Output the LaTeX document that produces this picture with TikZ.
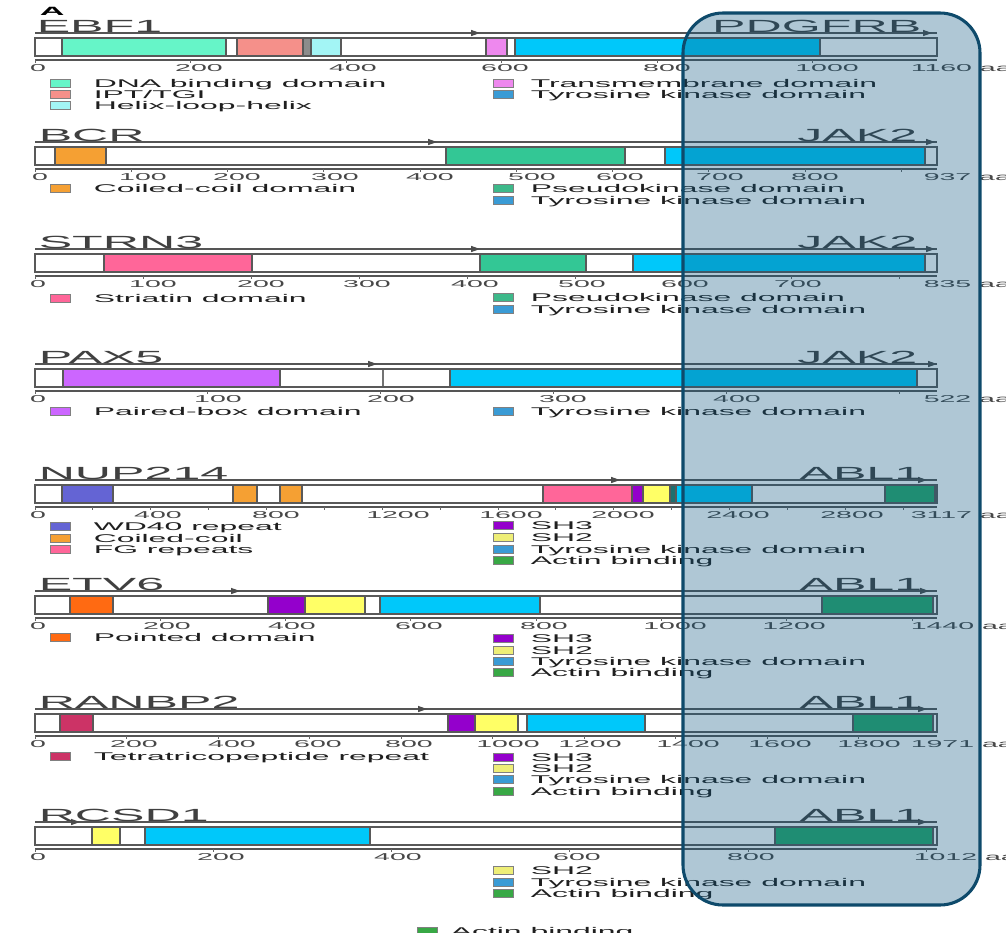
\documentclass[tikz,border=0pt]{standalone}
\usepackage{fontspec}
\setmainfont{Liberation Sans}
\definecolor{cTK}{HTML}{00C8FA}
\definecolor{cTKleg}{HTML}{3A9BD5}
\definecolor{cAct}{HTML}{27A86D}
\definecolor{cActleg}{HTML}{38A845}
\definecolor{cPK}{HTML}{33C795}
\definecolor{cPKleg}{HTML}{3DB98A}
\definecolor{cSHthree}{HTML}{9400CC}
\definecolor{cSHtwo}{HTML}{FFFF66}
\definecolor{cSHtwoleg}{HTML}{EEEE77}
\definecolor{cWD}{HTML}{6464D4}
\definecolor{cFG}{HTML}{FF6699}
\definecolor{cCC}{HTML}{F5A033}
\definecolor{cPNT}{HTML}{FF6A12}
\definecolor{cTPR}{HTML}{CC3366}
\definecolor{cSTR}{HTML}{FF6699}
\definecolor{cPAX}{HTML}{CC66FF}
\definecolor{cDNA}{HTML}{66F5C8}
\definecolor{cIPT}{HTML}{F5908A}
\definecolor{cHLH}{HTML}{A3F5F5}
\definecolor{cTM}{HTML}{EE88EE}
\definecolor{cDark}{HTML}{1F6F6F}
\definecolor{cOv}{HTML}{0F5882}
\definecolor{cBorder}{HTML}{0E4A6B}
\definecolor{cLine}{HTML}{555555}
\newcommand{\rowbase}[1]{%
  \draw[rline] (35,#1) -- (937,#1);
  \draw[rline] (35,{#1+27}) -- (937,{#1+27});
  \fill[white] (35,{#1+5}) rectangle (937,{#1+23});}
\newcommand{\dom}[4]{\filldraw[dom, fill=#4] (#1,{#3+5}) rectangle (#2,{#3+23});}
\newcommand{\rowedge}[1]{\draw[barline] (35,{#1+5}) rectangle (937,{#1+23});}
\newcommand{\amark}[2]{\fill[black!70] (#1,#2) -- ({#1-9},{#2-3.2}) -- ({#1-9},{#2+3.2}) -- cycle;}
\newcommand{\rticks}[3]{%
  \foreach \v in {#3} {\draw[tickl] ({35+\v/#2*902},{#1+27}) -- ({35+\v/#2*902},{#1+30});}}
\newcommand{\tlabels}[3]{%
  \foreach \x/\l in {#3} {\node[ticklab] (#1-t\l) at (\x,{#2+38.5}) {\l};}}
\newcommand{\leg}[6]{%
  \filldraw[legsq, fill=#5] (#2,{#4-4}) rectangle ({#2+20},{#4+4});
  \node[legtext] (#1) at (#3,{#4+4}) {#6};}
\begin{document}
\begin{tikzpicture}[x=0.75pt,y=-0.75pt,
  rline/.style={draw=cLine, line width=1pt},
  dom/.style={draw=black!65, line width=0.9pt},
  barline/.style={draw=black!65, line width=1.1pt},
  tickl/.style={draw=black!60, line width=0.6pt},
  legsq/.style={draw=black!50, line width=0.5pt},
  gtitle/.style={font=\fontsize{13.2}{14}\selectfont, text=black!75, xscale=2.85, inner sep=0, anchor=base west},
  ptitle/.style={gtitle, anchor=base east},
  ticklab/.style={font=\fontsize{7.5}{8}\selectfont, text=black!72, xscale=2.85, inner sep=0, anchor=base},
  lenlab/.style={ticklab, anchor=base west},
  legtext/.style={font=\fontsize{8.4}{9}\selectfont, text=black!88, xscale=2.85, inner sep=0, anchor=base west}
]
\useasboundingbox (0,0) rectangle (1006,932);
\fill[white] (0,0) rectangle (1006,932);
\node[font=\bfseries\fontsize{9}{10}\selectfont, xscale=2.85, inner sep=0, anchor=base west] (panelA) at (39,15) {A};

% ---------- EBF1 - PDGFRB ----------
\rowbase{33}
\dom{62}{226}{33}{cDNA}
\dom{237}{303}{33}{cIPT}
\dom{303}{311}{33}{black!45}
\dom{311}{341}{33}{cHLH}
\dom{486}{507}{33}{cTM}
\dom{515}{820}{33}{cTK}
\rowedge{33}
\amark{480}{33}\amark{932}{33}
\node[gtitle] (ebf1) at (36,32) {EBF1};
\node[ptitle] (pdgfrb) at (922,32) {PDGFRB};
\rticks{33}{1160}{0,200,400,600,800,1000}
\tlabels{ebf1}{33}{38/0,199/200,353/400,505/600,667/800,827/1000}
\node[lenlab] (ebf1-len) at (910,71.5) {1160 aa};
\leg{l1a}{50}{93}{83}{cDNA}{DNA binding domain}
\leg{l1b}{50}{93}{94}{cIPT}{IPT/TGI}
\leg{l1c}{50}{93}{105}{cHLH}{Helix-loop-helix}
\leg{l1d}{493}{530}{83}{cTM}{Transmembrane domain}
\leg{l1e}{493}{530}{94}{cTKleg}{Tyrosine kinase domain}

% ---------- BCR - JAK2 ----------
\rowbase{142}
\dom{55}{106}{142}{cCC}
\dom{446}{625}{142}{cPK}
\dom{665}{925}{142}{cTK}
\rowedge{142}
\amark{437}{142}\amark{935}{142}
\node[gtitle] (bcr) at (38,141) {BCR};
\node[ptitle] (jak2a) at (918,141) {JAK2};
\rticks{142}{937}{0,100,200,300,400,500,600,700,800,900}
\tlabels{bcr}{142}{40/0,143/100,237/200,335/300,430/400,532/500,620/600,720/700,815/800}
\node[lenlab] (bcr-len) at (923,180.5) {937 aa};
\leg{l2a}{50}{93}{188}{cCC}{Coiled-coil domain}
\leg{l2b}{493}{530}{188}{cPKleg}{Pseudokinase domain}
\leg{l2c}{493}{530}{200}{cTKleg}{Tyrosine kinase domain}

% ---------- STRN3 - JAK2 ----------
\rowbase{249}
\dom{104}{252}{249}{cSTR}
\dom{480}{586}{249}{cPK}
\dom{633}{925}{249}{cTK}
\rowedge{249}
\amark{480}{249}\amark{935}{249}
\node[gtitle] (strn3) at (38,248) {STRN3};
\node[ptitle] (jak2b) at (918,248) {JAK2};
\rticks{249}{835}{0,100,200,300,400,500,600,700,800}
\tlabels{strn3}{249}{38/0,153/100,261/200,367/300,475/400,582/500,685/600,798/700}
\node[lenlab] (strn3-len) at (923,287.5) {835 aa};
\leg{l3a}{50}{93}{298}{cSTR}{Striatin domain}
\leg{l3b}{493}{530}{297}{cPKleg}{Pseudokinase domain}
\leg{l3c}{493}{530}{309}{cTKleg}{Tyrosine kinase domain}

% ---------- PAX5 - JAK2 ----------
\rowbase{364}
\dom{63}{280}{364}{cPAX}
\dom{450}{917}{364}{cTK}
\draw[black!55, line width=1.4pt] (383,369) -- (383,387);
\rowedge{364}
\amark{377}{364}\amark{937}{364}
\node[gtitle] (pax5) at (38,363) {PAX5};
\node[ptitle] (jak2c) at (918,363) {JAK2};
\rticks{364}{522}{0,100,200,300,400,500}
\tlabels{pax5}{364}{38/0,218/100,391/200,563/300,737/400}
\node[lenlab] (pax5-len) at (923,402.5) {522 aa};
\leg{l4a}{50}{93}{411}{cPAX}{Paired-box domain}
\leg{l4b}{493}{530}{411}{cTKleg}{Tyrosine kinase domain}

% ---------- NUP214 - ABL1 ----------
\rowbase{480}
\dom{62}{113}{480}{cWD}
\dom{233}{257}{480}{cCC}
\dom{280}{302}{480}{cCC}
\dom{543}{632}{480}{cFG}
\dom{632}{643}{480}{cSHthree}
\dom{643}{670}{480}{cSHtwo}
\dom{670}{676}{480}{cDark}
\dom{676}{752}{480}{cTK}
\dom{885}{935}{480}{cAct}
\rowedge{480}
\amark{620}{480}\amark{927}{480}
\node[gtitle] (nup214) at (38,479) {NUP214};
\node[ptitle] (abl1a) at (923,479) {ABL1};
\rticks{480}{3117}{0,200,400,600,800,1000,1200,1400,1600,1800,2000,2200,2400,2600,2800,3000}
\tlabels{nup214}{480}{38/0,158/400,276/800,398/1200,511/1600,623/2000,738/2400,852/2800}
\node[lenlab] (nup214-len) at (910,518.5) {3117 aa};
\leg{l5a}{50}{93}{526}{cWD}{WD40 repeat}
\leg{l5b}{50}{93}{538}{cCC}{Coiled-coil}
\leg{l5c}{50}{93}{549}{cFG}{FG repeats}
\leg{l5d}{493}{530}{525}{cSHthree}{SH3}
\leg{l5e}{493}{530}{537}{cSHtwoleg}{SH2}
\leg{l5f}{493}{530}{549}{cTKleg}{Tyrosine kinase domain}
\leg{l5g}{493}{530}{560}{cActleg}{Actin binding}

% ---------- ETV6 - ABL1 ----------
\rowbase{591}
\dom{70}{113}{591}{cPNT}
\dom{268}{305}{591}{cSHthree}
\dom{305}{365}{591}{cSHtwo}
\dom{380}{540}{591}{cTK}
\dom{822}{933}{591}{cAct}
\rowedge{591}
\amark{240}{591}\amark{929}{591}
\node[gtitle] (etv6) at (38,590) {ETV6};
\node[ptitle] (abl1b) at (923,590) {ABL1};
\rticks{591}{1440}{0,200,400,600,800,1000,1200,1400}
\tlabels{etv6}{591}{38/0,167/200,292/400,419/600,544/800,675/1000,794/1200}
\node[lenlab] (etv6-len) at (910,629.5) {1440 aa};
\leg{l6a}{50}{93}{637}{cPNT}{Pointed domain}
\leg{l6b}{493}{530}{638}{cSHthree}{SH3}
\leg{l6c}{493}{530}{650}{cSHtwoleg}{SH2}
\leg{l6d}{493}{530}{661}{cTKleg}{Tyrosine kinase domain}
\leg{l6e}{493}{530}{672}{cActleg}{Actin binding}

% ---------- RANBP2 - ABL1 ----------
\rowbase{709}
\dom{60}{93}{709}{cTPR}
\dom{448}{475}{709}{cSHthree}
\dom{475}{518}{709}{cSHtwo}
\dom{527}{645}{709}{cTK}
\dom{853}{933}{709}{cAct}
\rowedge{709}
\amark{427}{709}\amark{927}{709}
\node[gtitle] (ranbp2) at (38,708) {RANBP2};
\node[ptitle] (abl1c) at (923,708) {ABL1};
\rticks{709}{1971}{0,200,400,600,800,1000,1200,1400,1600,1800}
\tlabels{ranbp2}{709}{38/0,134/200,232/400,318/600,409/800,508/1000,590/1200,688/1400,780/1600,869/1800}
\node[lenlab] (ranbp2-len) at (910,747.5) {1971 aa};
\leg{l7a}{50}{93}{756}{cTPR}{Tetratricopeptide repeat}
\leg{l7b}{493}{530}{757}{cSHthree}{SH3}
\leg{l7c}{493}{530}{768}{cSHtwoleg}{SH2}
\leg{l7d}{493}{530}{779}{cTKleg}{Tyrosine kinase domain}
\leg{l7e}{493}{530}{791}{cActleg}{Actin binding}

% ---------- RCSD1 - ABL1 ----------
\rowbase{822}
\dom{92}{120}{822}{cSHtwo}
\dom{145}{370}{822}{cTK}
\dom{775}{933}{822}{cAct}
\rowedge{822}
\amark{80}{822}\amark{927}{822}
\node[gtitle] (rcsd1) at (38,821) {RCSD1};
\node[ptitle] (abl1d) at (923,821) {ABL1};
\rticks{822}{1012}{0,200,400,600,800,1000}
\tlabels{rcsd1}{822}{38/0,221/200,398/400,577/600,751/800}
\node[lenlab] (rcsd1-len) at (913,860.5) {1012 aa};
\leg{l8a}{493}{530}{870}{cSHtwoleg}{SH2}
\leg{l8b}{493}{530}{882}{cTKleg}{Tyrosine kinase domain}
\leg{l8c}{493}{530}{893}{cActleg}{Actin binding}
\leg{l9a}{417}{450}{931}{cActleg}{Actin binding}

% ---------- highlight overlay ----------
\draw[draw=cBorder, line width=2.3pt, fill=cOv, fill opacity=0.33, rounded corners=30pt] (683,13) rectangle (980,905);
\end{tikzpicture}
\end{document}
